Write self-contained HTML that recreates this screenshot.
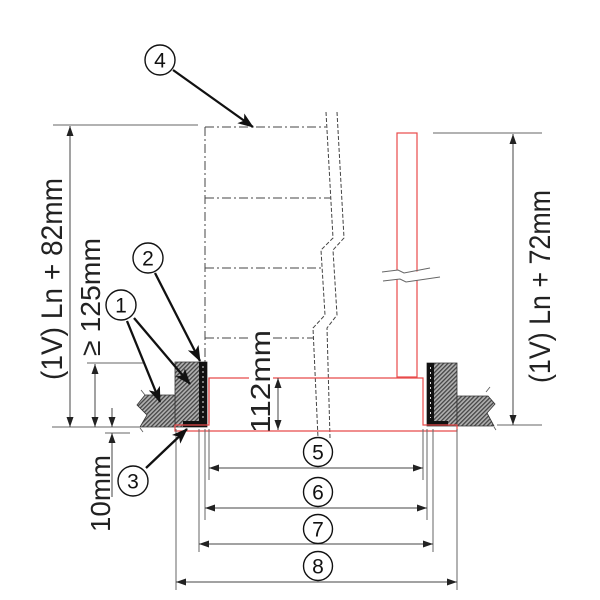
<!DOCTYPE html>
<html><head><meta charset="utf-8"><style>
html,body{margin:0;padding:0;background:#fff;}
svg{display:block;}
text{font-family:"Liberation Sans",sans-serif;}
</style></head><body>
<svg width="600" height="600" viewBox="0 0 600 600" xmlns="http://www.w3.org/2000/svg">
<defs>
<pattern id="h" width="3" height="3" patternUnits="userSpaceOnUse" patternTransform="rotate(45)">
<rect width="3" height="3" fill="#b0b0b0"/>
<rect width="1.3" height="3" fill="#444"/>
</pattern>
<marker id="L" viewBox="0 0 16 12" refX="15" refY="6" markerWidth="16" markerHeight="12" orient="auto" markerUnits="userSpaceOnUse"><path d="M0,0 L16,6 L0,12 L4,6 z" fill="#111"/></marker>
<marker id="d" viewBox="0 0 10 7" refX="10" refY="3.5" markerWidth="10" markerHeight="7" orient="auto-start-reverse" markerUnits="userSpaceOnUse"><path d="M0,0 L10,3.5 L0,7 z" fill="#222"/></marker>
</defs>

<!-- dash-dot pipe sections -->
<g stroke="#444" stroke-width="1" fill="none" stroke-dasharray="9 3 2 3">
<line x1="205" y1="127" x2="326" y2="127"/>
<line x1="205" y1="198" x2="331" y2="198"/>
<line x1="205" y1="268" x2="322" y2="268"/>
<line x1="205" y1="338" x2="314" y2="338"/>
<line x1="205" y1="127" x2="205" y2="362"/>
</g>
<!-- pipe dashed double line -->
<g stroke="#444" stroke-width="1" fill="none" stroke-dasharray="4 2">
<polyline points="326,112 333,238 321,250 325,315 313,328 318,438"/>
<polyline points="337,112 344,238 333,250 337,315 327,328 330,438"/>
</g>

<!-- red riser -->
<rect x="397" y="133" width="20" height="244" fill="none" stroke="#e84a4a" stroke-width="1.2"/>
<polygon points="380,273 398,270 407,273 442,268 442,277 407,282 398,279 380,282" fill="#fff"/>
<g stroke="#666" stroke-width="1" fill="none">
<polyline points="382,272 398,270 404,273 430,268"/>
<polyline points="383,281 400,279 406,282 440,277"/>
</g>

<!-- collars & slabs -->
<polygon points="175,362 207,362 207,427 175,427" fill="url(#h)" stroke="#333" stroke-width="0.8"/>
<polygon points="145,395 175,395 175,427 140,427 147,415 137,405" fill="url(#h)" stroke="#333" stroke-width="0.8"/>
<polygon points="427,363 457,363 457,426 427,426" fill="url(#h)" stroke="#333" stroke-width="0.8"/>
<polygon points="457,396 488,396 495,404 487,413 494,426 457,426" fill="url(#h)" stroke="#333" stroke-width="0.8"/>
<!-- black strips -->
<rect x="199" y="362" width="8" height="65" fill="#111"/>
<rect x="183" y="421" width="24" height="6" fill="#111"/>
<rect x="427" y="363" width="7" height="63" fill="#111"/>
<rect x="427" y="421" width="21" height="5" fill="#111"/>
<line x1="203" y1="366" x2="203" y2="418" stroke="#ddd" stroke-width="1" stroke-dasharray="2 3"/>
<line x1="430.5" y1="367" x2="430.5" y2="418" stroke="#ddd" stroke-width="1" stroke-dasharray="2 3"/>
<!-- small ticks -->
<g stroke="#555" stroke-width="0.8">
<line x1="141" y1="390" x2="145" y2="395"/>
<line x1="140" y1="428" x2="143" y2="432"/>
<line x1="486" y1="392" x2="490" y2="387"/>
<line x1="494" y1="427" x2="496" y2="430"/>
</g>

<!-- red base -->
<polygon points="209,378 423,378 423,425 457,425 457,431 175,431 175,425 209,425" fill="none" stroke="#e84a4a" stroke-width="1.2"/>
<line x1="209" y1="378" x2="209" y2="423" stroke="#e84a4a" stroke-width="1.2"/>

<!-- dimension lines -->
<g stroke="#666" stroke-width="1" fill="none">
<line x1="53" y1="125" x2="198" y2="125"/>
<line x1="52" y1="427" x2="140" y2="427"/>
<line x1="87" y1="363" x2="143" y2="363"/>
<line x1="105" y1="433" x2="130" y2="433"/>
<line x1="433" y1="133" x2="542" y2="133"/>
<line x1="497" y1="425" x2="542" y2="425"/>
<line x1="176" y1="429" x2="176" y2="590"/>
<line x1="199" y1="429" x2="199" y2="552"/>
<line x1="205" y1="429" x2="205" y2="520"/>
<line x1="209" y1="429" x2="209" y2="480"/>
<line x1="423" y1="429" x2="423" y2="480"/>
<line x1="427" y1="429" x2="427" y2="520"/>
<line x1="433" y1="429" x2="433" y2="552"/>
<line x1="457" y1="429" x2="457" y2="590"/>
</g>
<g stroke="#444" stroke-width="1" fill="none" marker-start="url(#d)" marker-end="url(#d)">
<line x1="70" y1="126" x2="70" y2="427"/>
<line x1="95" y1="364" x2="95" y2="427"/>
<line x1="513" y1="134" x2="513" y2="425"/>
<line x1="209" y1="468" x2="423" y2="468"/>
<line x1="205" y1="508" x2="427" y2="508"/>
<line x1="199" y1="544" x2="433" y2="544"/>
<line x1="176" y1="582" x2="457" y2="582"/>
</g>
<g stroke="#444" stroke-width="1" fill="none" marker-end="url(#d)">
<line x1="112" y1="408" x2="112" y2="427"/>
<line x1="112" y1="497" x2="112" y2="433"/>
</g>

<!-- 112mm label with white bg -->
<rect x="249" y="329" width="24" height="100" fill="#fff"/>
<line x1="278" y1="378" x2="278" y2="430" stroke="#444" stroke-width="1" marker-start="url(#d)" marker-end="url(#d)"/>

<!-- rotated texts -->
<g fill="#222">
<text transform="translate(62,380) rotate(-90)" font-size="30" textLength="202" lengthAdjust="spacingAndGlyphs">(1V) Ln + 82mm</text>
<text transform="translate(100,356) rotate(-90)" font-size="28" textLength="118" lengthAdjust="spacingAndGlyphs">≥ 125mm</text>
<text transform="translate(550,383) rotate(-90)" font-size="30" textLength="193" lengthAdjust="spacingAndGlyphs">(1V) Ln + 72mm</text>
<text transform="translate(270,433) rotate(-90)" font-size="28" textLength="103" lengthAdjust="spacingAndGlyphs">112mm</text>
<text transform="translate(110,532) rotate(-90)" font-size="28" textLength="77" lengthAdjust="spacingAndGlyphs">10mm</text>
</g>

<!-- leaders -->
<g stroke="#111" stroke-width="2.3" fill="none" marker-end="url(#L)">
<line x1="173" y1="70" x2="253" y2="127"/>
<line x1="155" y1="273" x2="200" y2="361"/>
<line x1="127" y1="321" x2="160" y2="402"/>
<line x1="134" y1="318" x2="190" y2="384"/>
<line x1="146" y1="468" x2="187" y2="429"/>
</g>

<!-- circled numbers -->
<g stroke="#111" stroke-width="1.4" fill="#fff">
<circle cx="160" cy="60" r="15"/>
<circle cx="148" cy="258" r="15"/>
<circle cx="121" cy="305" r="15"/>
<circle cx="133" cy="481" r="15"/>
<circle cx="318" cy="452" r="14.5"/>
<circle cx="318" cy="492" r="14.5"/>
<circle cx="318" cy="529" r="14.5"/>
<circle cx="318" cy="566" r="14.5"/>
</g>
<g fill="#111" font-size="21" text-anchor="middle">
<text x="160" y="67.5">4</text>
<text x="148" y="265.5">2</text>
<text x="121" y="312.5">1</text>
<text x="133" y="488.5">3</text>
<text x="318" y="459.5">5</text>
<text x="318" y="499.5">6</text>
<text x="318" y="536.5">7</text>
<text x="318" y="573.5">8</text>
</g>
</svg>
</body></html>
